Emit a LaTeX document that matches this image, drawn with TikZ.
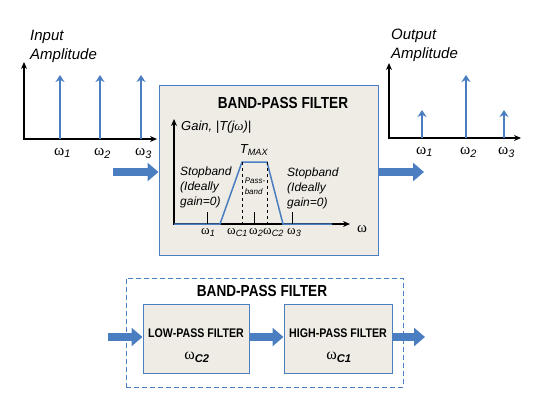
\documentclass[tikz,border=0pt]{standalone}
\usepackage{fontspec}
\setmainfont{Liberation Sans}
\newfontfamily\narrowfont[FakeStretch=0.85]{Liberation Sans}
\newfontfamily\omegafont{Liberation Serif}
\usetikzlibrary{arrows.meta}
\definecolor{bpblue}{RGB}{74,126,192}
\definecolor{bpfill}{RGB}{238,236,229}
\newcommand{\om}[1]{{\omegafont ω}\textsubscript{\itshape #1}}
\begin{document}
\begin{tikzpicture}[x=1pt,y=-1pt,
    axis/.style={line width=1.3pt,{Stealth[length=7pt,width=6pt]}-{Stealth[length=7pt,width=6pt]}},
    spike/.style={bpblue,line width=1.8pt,-{Stealth[length=7pt,width=9pt]}},
    bigarrow/.style={bpblue,line width=8pt,-{Triangle[length=11pt,width=18pt]}},
    fbox/.style={draw=bpblue,fill=bpfill,line width=1pt,inner sep=0pt},
    ttl/.style={font=\narrowfont\bfseries\fontsize{16}{18}\selectfont},
    subttl/.style={font=\narrowfont\bfseries\fontsize{12.5}{14}\selectfont},
    amp/.style={font=\itshape\fontsize{15}{19}\selectfont,align=left,inner sep=0pt},
    lbl/.style={font=\itshape\fontsize{12}{15}\selectfont,align=left,inner sep=0pt},
    wlbl/.style={font=\fontsize{15.5}{17}\selectfont,inner sep=0pt}]
  \useasboundingbox (0,0) rectangle (535,400);

  % input spectrum
  \node[amp,anchor=north west] (inlbl) at (30,30) {Input\\Amplitude};
  \coordinate (inO) at (24,139);
  \draw[axis] (24,62) -- (inO) -- (157,139);
  \foreach \x/\n in {60/1,100/2,141/3} {
    \coordinate (ib\n) at (\x,139);
    \coordinate (it\n) at (\x,75);
    \draw[spike] (ib\n) -- (it\n);
    \node[wlbl,anchor=north west] (iw\n) at ([xshift=-6pt,yshift=-9pt]ib\n) {\om{\n}};
  }

  % output spectrum
  \node[amp,anchor=north west] (outlbl) at (391,29) {Output\\Amplitude};
  \coordinate (outO) at (389,138);
  \draw[axis] (389,63) -- (outO) -- (521,138);
  \foreach \x/\h/\n in {422/110/1,466/75/2,504/110/3} {
    \coordinate (ob\n) at (\x,138);
    \coordinate (ot\n) at (\x,\h);
    \draw[spike] (ob\n) -- (ot\n);
    \node[wlbl,anchor=north west] (ow\n) at ([xshift=-6pt,yshift=-9pt]ob\n) {\om{\n}};
  }

  % band-pass filter box
  \node[fbox,minimum width=219pt,minimum height=170pt] (bpf) at (268.5,170) {};
  \node[ttl] (bpt) at (283,103) {BAND-PASS FILTER};
  \coordinate (inA) at (113,172);
  \coordinate (outA) at (424,172);
  \draw[bigarrow] (inA) -- (inA -| bpf.west);
  \draw[bigarrow] (outA -| bpf.east) -- (outA);

  % gain curve
  \coordinate (gO) at (174,224);
  \draw[line width=1.2pt,{Stealth[length=7pt,width=6pt]}-{Stealth[length=7pt,width=6pt]}]
    (174,119) -- (gO) -- (350,224);
  \node[lbl,font=\itshape\fontsize{13}{15}\selectfont,anchor=west] (gain) at (181,127) {Gain, |T(j{\omegafont ω})|};
  \coordinate (c1) at (242,162);
  \coordinate (c2) at (267,162);
  \draw[bpblue,line width=1.5pt] (gO) -- (220,224) -- (c1) -- (c2) -- (283,224) -- (332,224);
  \draw[dashed,line width=0.8pt] (c1) -- (c1 |- gO);
  \draw[dashed,line width=0.8pt] (c2) -- (c2 |- gO);
  \foreach \x in {207,254,292}
    \draw[line width=0.8pt] (\x,212) -- (\x,224);
  \node[lbl,font=\itshape\fontsize{13}{15}\selectfont] (tmax) at (254,150) {T\textsubscript{MAX}};
  \node[lbl,anchor=west] (stopL) at (180,187) {Stopband\\(Ideally\\gain=0)};
  \node[lbl,anchor=west] (stopR) at (287,188) {Stopband\\(Ideally\\gain=0)};
  \node[lbl,font=\itshape\fontsize{8}{11}\selectfont] (pass) at (255,186) {Pass-\\band};
  \begin{scope}[wlbl/.append style={font=\fontsize{13}{15}\selectfont,anchor=north west}]
    \node[wlbl] (w1) at (201,228) {\om{1}};
    \node[wlbl] (wc1) at (227,228) {\om{C1}};
    \node[wlbl] (w2) at (249,228) {\om{2}};
    \node[wlbl] (wc2) at (263,228) {\om{C2}};
    \node[wlbl] (w3) at (287,228) {\om{3}};
  \end{scope}
  \node[wlbl,font=\omegafont\fontsize{15}{17}\selectfont] (wx) at (362,229) {ω};

  % cascade of low-pass and high-pass
  \node[draw=bpblue,line width=1pt,dash pattern=on 5pt off 3pt,minimum width=277pt,minimum height=109pt] (bpd) at (264.5,332.5) {};
  \node[ttl] (bpdt) at (262,291) {BAND-PASS FILTER};
  \node[fbox,minimum width=106pt,minimum height=69pt] (lp) at (196,338.5) {};
  \node[fbox,minimum width=108pt,minimum height=69pt] (hp) at (338,338.5) {};
  \node[subttl] (lpt) at (196,333) {LOW-PASS FILTER};
  \node[subttl] (hpt) at (338,333) {HIGH-PASS FILTER};
  \node[font=\fontsize{16}{18}\selectfont] (lpw) at (197,357) {{\omegafont ω}\textsubscript{\bfseries\itshape C2}};
  \node[font=\fontsize{16}{18}\selectfont] (hpw) at (339,357) {{\omegafont ω}\textsubscript{\bfseries\itshape C1}};
  \coordinate (lin) at (108,337);
  \coordinate (lout) at (425,337);
  \draw[bigarrow] (lin) -- (lin -| lp.west);
  \draw[bigarrow] (lp.east |- lin) -- (hp.west |- lin);
  \draw[bigarrow] (hp.east |- lout) -- (lout);
\end{tikzpicture}
\end{document}
